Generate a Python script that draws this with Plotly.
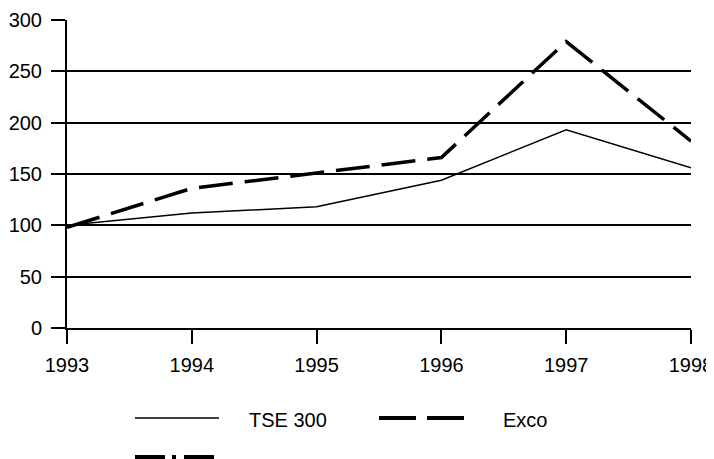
import plotly.graph_objects as go

years = [1993, 1994, 1995, 1996, 1997, 1998]
tse_300 = [100, 112, 118, 144, 193, 156]
exco = [98, 136, 151, 166, 279, 182]
series_names = ["TSE 300", "Exco", ""]
y_ticks = [0, 50, 100, 150, 200, 250, 300]

W, H = 714, 459
OFF = 8  # page body margin shifts the figure by this amount
# target plot area in window pixels: x 67..691, y 20..328
L, T = 67 - OFF, 20 - OFF
R = W - (691 - OFF)
B = H - (328 - OFF)
PW, PH = W - L - R, H - T - B
FONT = "Liberation Sans, Arial, sans-serif"

fig = go.Figure()
fig.add_trace(go.Scatter(x=years, y=tse_300, mode="lines", name=series_names[0],
                         line=dict(color="black", width=1.5), showlegend=False, cliponaxis=False))
fig.add_trace(go.Scatter(x=years, y=exco, mode="lines", name=series_names[1],
                         line=dict(color="black", width=3.5, dash="34px,12px"), showlegend=False,
                         cliponaxis=False))


def px_x(p):
    # window pixel -> paper coordinate
    return (p - OFF - L) / PW


def px_y(p):
    return (H - B - (p - OFF)) / PH


shapes = []
annotations = []
# legend: item 1 solid, item 2 dashed, item 3 dash-dot (no label)
legend_items = [
    (series_names[0], 135, 219, 418, dict(color="black", width=1.5), 247),
    (series_names[1], 379, 464, 418, dict(color="black", width=4, dash="37px,11px"), 501),
    (series_names[2], 135, 219, 457, dict(color="black", width=4, dash="30px,7px,4px,8px"), 247),
]
for name, x0, x1, yy, ln, tx in legend_items:
    shapes.append(dict(type="line", xref="paper", yref="paper",
                       x0=px_x(x0), x1=px_x(x1), y0=px_y(yy), y1=px_y(yy), line=ln))
    if name:
        annotations.append(dict(xref="paper", yref="paper", x=px_x(tx), y=px_y(yy + 2),
                                text=name, showarrow=False, xanchor="left", yanchor="middle",
                                font=dict(family=FONT, size=20, color="black")))

fig.update_layout(
    width=W, height=H,
    margin=dict(l=L, r=R, t=T, b=B, autoexpand=False),
    paper_bgcolor="white", plot_bgcolor="white",
    font=dict(family=FONT, size=20, color="black"),
    showlegend=False,
    shapes=shapes, annotations=annotations,
    xaxis=dict(range=[1993, 1998], tickvals=years, ticktext=[str(y) for y in years],
               showgrid=False, zeroline=False, showline=True, linecolor="black", linewidth=2,
               ticks="outside", ticklen=14, tickwidth=2, tickcolor="black",
               tickfont=dict(size=20), automargin=False, ticklabelstandoff=4),
    yaxis=dict(range=[0, 300], tickvals=y_ticks, showgrid=True, gridcolor="black", gridwidth=2,
               zeroline=False, showline=True, linecolor="black", linewidth=2,
               ticks="outside", ticklen=14, tickwidth=2, tickcolor="black",
               tickfont=dict(size=20), automargin=False, ticklabelstandoff=5),
)

fig.write_html("out.html")
